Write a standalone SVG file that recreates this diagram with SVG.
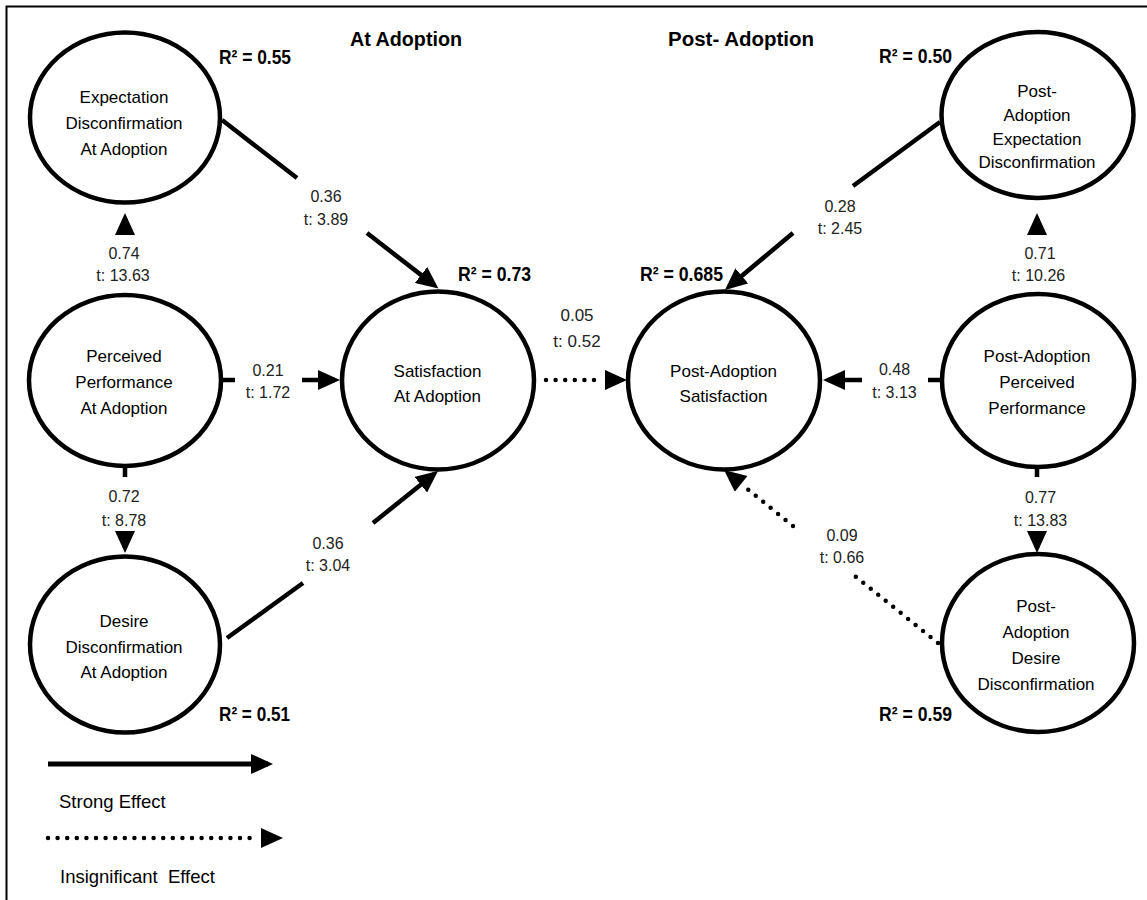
<svg xmlns="http://www.w3.org/2000/svg" width="1147" height="900" viewBox="0 0 1147 900">
<style>
.node{fill:#fff;stroke:#000;stroke-width:4.5}
.nt{font-family:"Liberation Sans",Arial,sans-serif;font-size:17px;fill:#000;text-anchor:middle}
.el{font-family:"Liberation Sans",Arial,sans-serif;font-size:16px;fill:#222;text-anchor:middle}
.el17{font-family:"Liberation Sans",Arial,sans-serif;font-size:17px;fill:#222;text-anchor:middle}
.r2{font-family:"Liberation Sans",Arial,sans-serif;font-size:20px;font-weight:bold;fill:#000}
.ttl{font-family:"Liberation Sans",Arial,sans-serif;font-size:20px;font-weight:bold;fill:#000}
.lg{font-family:"Liberation Sans",Arial,sans-serif;font-size:18.5px;fill:#000}
.solid{fill:none;stroke:#000;stroke-width:4.5}
.dot{fill:none;stroke:#000;stroke-width:4.5;stroke-linecap:round;stroke-dasharray:0 9.6}
.frame{fill:none;stroke:#000;stroke-width:2}
</style>
<defs>
<marker id="arr" viewBox="0 0 22 20" refX="17" refY="10" markerWidth="22" markerHeight="20" markerUnits="userSpaceOnUse" orient="auto"><path d="M0,0 L22,10 L0,20 z" fill="#000"/></marker>
<marker id="arrDot" viewBox="0 0 26 20" refX="0" refY="10" markerWidth="26" markerHeight="20" markerUnits="userSpaceOnUse" orient="auto"><path d="M4,0 L26,10 L4,20 z" fill="#000"/></marker>
</defs>
<rect width="1147" height="900" fill="#fff"/>
<path class="frame" d="M6.5,900 L6.5,6.5 L1147,6.5"/>

<g id="titles">
<text class="ttl" x="350" y="46" textLength="112" lengthAdjust="spacingAndGlyphs">At Adoption</text>
<text class="ttl" x="668" y="46" textLength="146" lengthAdjust="spacingAndGlyphs">Post- Adoption</text>
</g>

<g id="connectors">
<g id="e-exp-sat">
<path class="solid" marker-end="url(#arr)" d="M222,120 L297,178 M367,233 L434.5,285.4"/>
<text class="el" x="326" y="202">0.36</text><text class="el" x="326" y="224.5">t: 3.89</text>
</g>
<g id="e-perf-sat">
<path class="solid" marker-end="url(#arr)" d="M222,380 L235,380 M302,380 L335,380"/>
<text class="el" x="268" y="375.5">0.21</text><text class="el" x="268" y="398">t: 1.72</text>
</g>
<g id="e-des-sat">
<path class="solid" marker-end="url(#arr)" d="M227,638 L303,583 M373,523 L434.1,474.1"/>
<text class="el" x="328" y="549">0.36</text><text class="el" x="328" y="571">t: 3.04</text>
</g>
<g id="e-perf-exp">
<path class="solid" marker-end="url(#arr)" d="M125,234 L125,218"/>
<text class="el" x="124" y="259">0.74</text><text class="el" x="123" y="281">t: 13.63</text>
</g>
<g id="e-perf-des">
<path class="solid" marker-end="url(#arr)" d="M125,468 L125,477 M125,531 L125,548"/>
<text class="el" x="124" y="502">0.72</text><text class="el" x="124" y="525.5">t: 8.78</text>
</g>
<g id="e-sat-pasat">
<path class="dot" marker-end="url(#arrDot)" d="M546,380 L601,380"/>
<text class="el17" x="577" y="321">0.05</text><text class="el17" x="577" y="347">t: 0.52</text>
</g>
<g id="e-paexp-pasat">
<path class="solid" marker-end="url(#arr)" d="M940,122 L853,186 M793,233 L728.8,286.8"/>
<text class="el" x="840" y="212">0.28</text><text class="el" x="840" y="234">t: 2.45</text>
</g>
<g id="e-paperf-pasat">
<path class="solid" marker-end="url(#arr)" d="M940,380 L928,380 M862,380 L828,380"/>
<text class="el" x="894.5" y="375">0.48</text><text class="el" x="894.5" y="397.5">t: 3.13</text>
</g>
<g id="e-paperf-paexp">
<path class="solid" marker-end="url(#arr)" d="M1037,234 L1037,218"/>
<text class="el" x="1040" y="259">0.71</text><text class="el" x="1038.5" y="281">t: 10.26</text>
</g>
<g id="e-paperf-pades">
<path class="solid" marker-end="url(#arr)" d="M1037,469 L1037,477 M1037,531 L1037,548"/>
<text class="el" x="1040.5" y="502.5">0.77</text><text class="el" x="1040.5" y="525.5">t: 13.83</text>
</g>
<g id="e-pades-pasat">
<path class="dot" marker-end="url(#arrDot)" d="M938,643 L850,572 M793,526 L744.2,486.4"/>
<text class="el" x="842" y="541">0.09</text><text class="el" x="842" y="562.5">t: 0.66</text>
</g>
</g>

<g id="n-exp">
<ellipse class="node" cx="125" cy="117.5" rx="95" ry="85"/>
<text class="nt" x="124" y="103">Expectation</text>
<text class="nt" x="124" y="129">Disconfirmation</text>
<text class="nt" x="124" y="155">At Adoption</text>
<text class="r2" x="219" y="64" textLength="72" lengthAdjust="spacingAndGlyphs">R² = 0.55</text>
</g>
<g id="n-perf">
<ellipse class="node" cx="125" cy="380.5" rx="96" ry="85.5"/>
<text class="nt" x="124" y="362">Perceived</text>
<text class="nt" x="124" y="388">Performance</text>
<text class="nt" x="124" y="414">At Adoption</text>
</g>
<g id="n-des">
<ellipse class="node" cx="125" cy="644.5" rx="95" ry="88"/>
<text class="nt" x="124" y="627">Desire</text>
<text class="nt" x="124" y="652.5">Disconfirmation</text>
<text class="nt" x="124" y="678">At Adoption</text>
<text class="r2" x="219" y="721" textLength="71" lengthAdjust="spacingAndGlyphs">R² = 0.51</text>
</g>
<g id="n-sat">
<ellipse class="node" cx="438" cy="380.5" rx="96" ry="89"/>
<text class="nt" x="437.5" y="376.5">Satisfaction</text>
<text class="nt" x="437.5" y="402">At Adoption</text>
<text class="r2" x="458" y="281" textLength="73" lengthAdjust="spacingAndGlyphs">R² = 0.73</text>
</g>
<g id="n-pasat">
<ellipse class="node" cx="724" cy="380.5" rx="96" ry="89"/>
<text class="nt" x="723.5" y="376.5">Post-Adoption</text>
<text class="nt" x="723.5" y="402">Satisfaction</text>
<text class="r2" x="640" y="281" textLength="83" lengthAdjust="spacingAndGlyphs">R² = 0.685</text>
</g>
<g id="n-paexp">
<ellipse class="node" cx="1037.5" cy="115" rx="96" ry="83"/>
<text class="nt" x="1037" y="97">Post-</text>
<text class="nt" x="1037" y="121">Adoption</text>
<text class="nt" x="1037" y="145">Expectation</text>
<text class="nt" x="1037" y="168">Disconfirmation</text>
<text class="r2" x="879" y="63" textLength="73" lengthAdjust="spacingAndGlyphs">R² = 0.50</text>
</g>
<g id="n-paperf">
<ellipse class="node" cx="1038" cy="380.5" rx="96" ry="86.5"/>
<text class="nt" x="1037" y="362">Post-Adoption</text>
<text class="nt" x="1037" y="388">Perceived</text>
<text class="nt" x="1037" y="414">Performance</text>
</g>
<g id="n-pades">
<ellipse class="node" cx="1038" cy="643" rx="96" ry="89"/>
<text class="nt" x="1036" y="612">Post-</text>
<text class="nt" x="1036" y="638">Adoption</text>
<text class="nt" x="1036" y="663.5">Desire</text>
<text class="nt" x="1036" y="690">Disconfirmation</text>
<text class="r2" x="879" y="721" textLength="73" lengthAdjust="spacingAndGlyphs">R² = 0.59</text>
</g>

<g id="legend">
<path d="M48,764 L268,764" fill="none" stroke="#000" stroke-width="5" marker-end="url(#arr)"/>
<text class="lg" x="59" y="808">Strong Effect</text>
<path class="dot" marker-end="url(#arrDot)" d="M48,838 L257,838"/>
<text class="lg" x="60" y="883" xml:space="preserve">Insignificant  Effect</text>
</g>
</svg>
